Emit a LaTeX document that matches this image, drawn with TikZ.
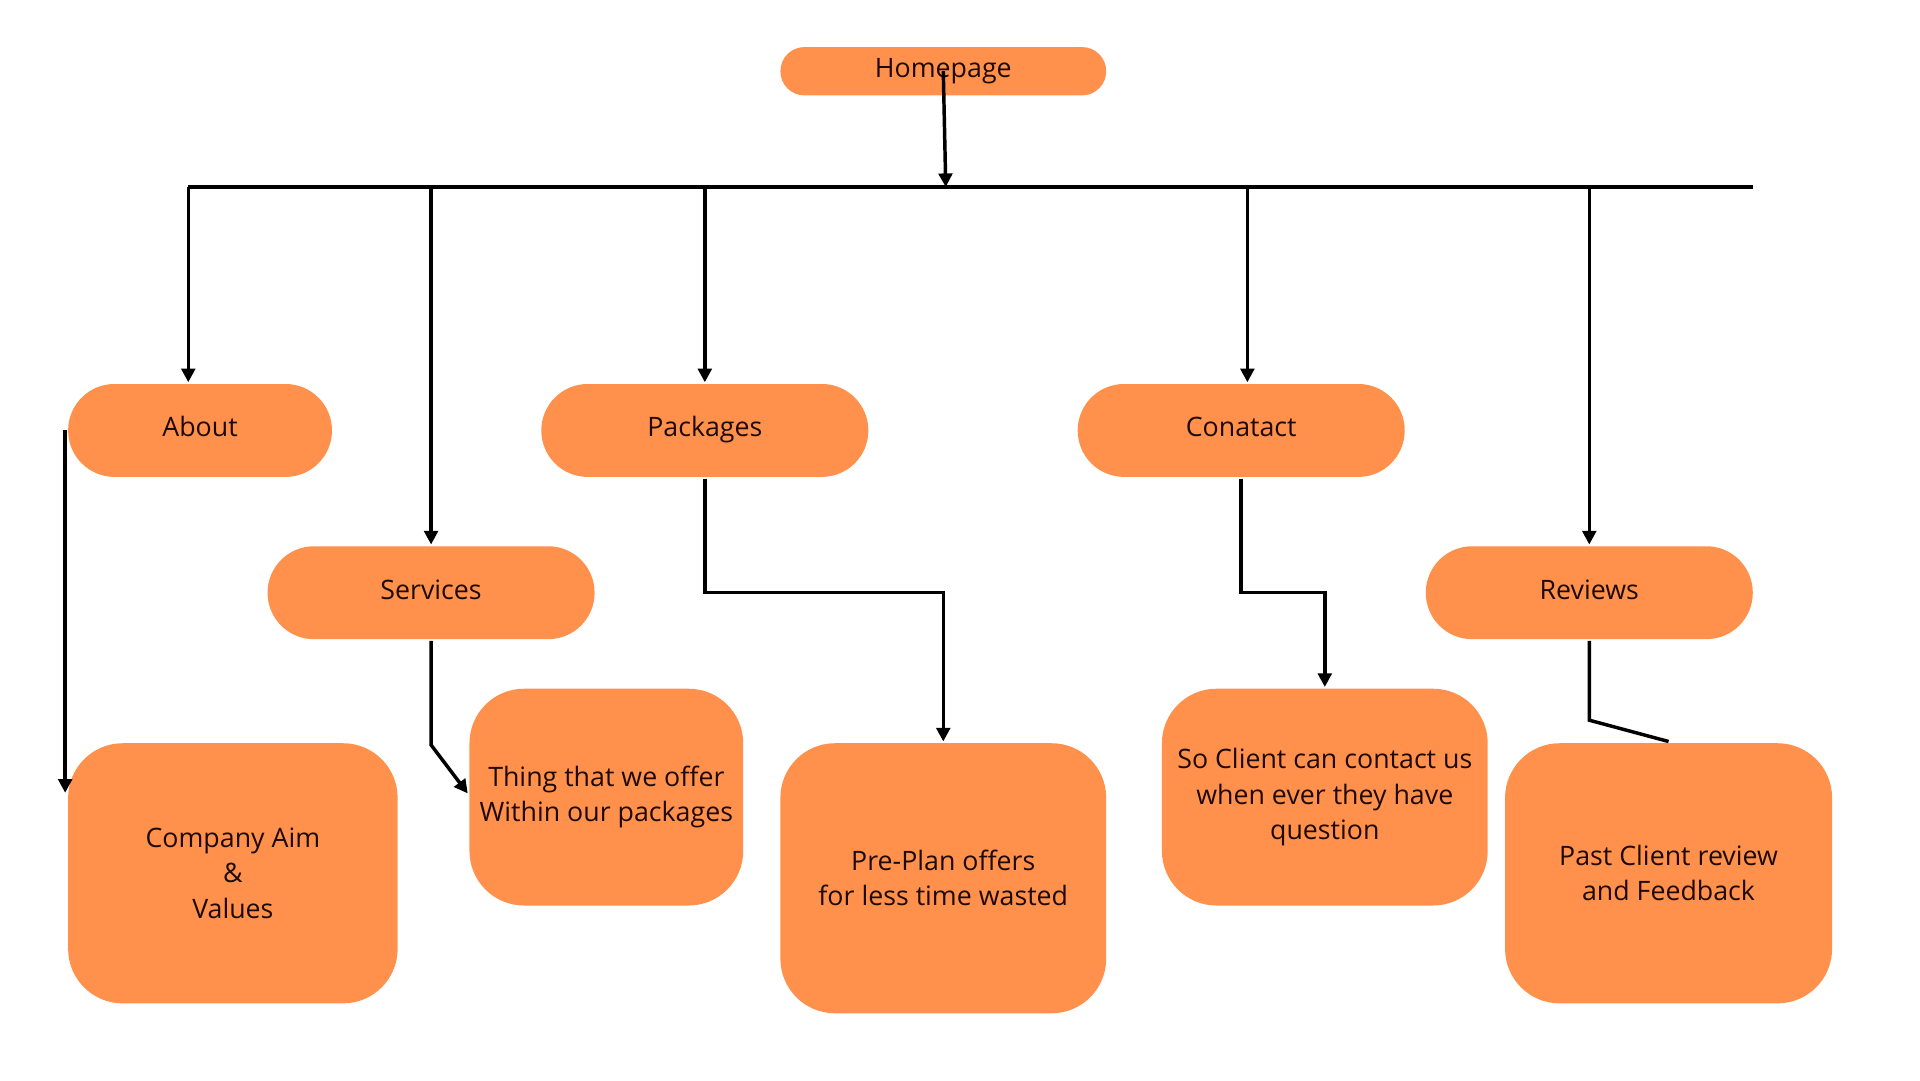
\documentclass[tikz,border=0pt]{standalone}
\usepackage{fontspec}
\setmainfont{Open Sans}
\usetikzlibrary{positioning,arrows.meta}
\definecolor{boxorange}{HTML}{FF914D}
\definecolor{inktext}{HTML}{1E0A04}

\begin{document}
\begin{tikzpicture}[line width=1.4pt, on grid,
  >={Triangle[length=5.5pt,width=5.5pt]},
  every node/.style={font=\fontsize{10.8}{14.2}\selectfont, text=inktext, align=center, inner sep=0pt},
  pill/.style={fill=boxorange, rounded corners=18.7pt, minimum width=132pt, minimum height=37.5pt,
    text height=0.72em, text depth=0.2em},
  card/.style={fill=boxorange, rounded corners=22pt, minimum width=132pt}]
 \useasboundingbox (0,0) rectangle (775pt,-436pt);
 \node [pill, rounded corners=9.7pt, minimum height=19.5pt, minimum width=131.5pt] (home) at (380.75pt,-28.75pt) {Homepage};
 \node [pill, minimum width=106.5pt, below left=145pt and 300pt of home] (about) {About};
 \node [pill, below left=145pt and 96.25pt of home] (packages) {Packages};
 \node [pill, below right=145pt and 120.25pt of home] (contact) {Conatact};
 \node [pill, below right=65.5pt and 93.25pt of about] (services) {Services};
 \node [pill, below right=65.5pt and 140.5pt of contact] (reviews) {Reviews};
 \node [card, minimum width=133pt, minimum height=105pt, below right=178.75pt and 13.25pt of about] (aim) {Company Aim\\ \&\\ Values};
 \node [card, minimum width=110.5pt, minimum height=87.5pt, below right=82.5pt and 70.75pt of services] (offer) {Thing that we offer\\ Within our packages};
 \node [card, minimum width=131.5pt, minimum height=109pt, below=325.75pt of home] (preplan) {Pre-Plan offers\\ for less time wasted};
 \node [card, minimum width=131.5pt, minimum height=87.5pt, below right=148pt and 33.75pt of contact] (reach) {So Client can contact us\\ when ever they have\\ question};
 \node [card, minimum height=105pt, below right=113.25pt and 32pt of reviews] (feedback) {Past Client review\\ and Feedback};
 % bus line under the homepage
 \coordinate (busL) at (76pt,-75.5pt);
 \coordinate (busR) at (707.5pt,-75.5pt);
 \draw (busL) -- (busR);
 \draw [->] (home.center) -- ([xshift=1pt]home.center |- busL);
 \draw [->] ([xshift=-4.75pt]about.north |- busL) -- ([xshift=-4.75pt]about.north);
 \draw [->] (services.north |- busL) -- (services.north);
 \draw [->] (packages.north |- busL) -- (packages.north);
 \draw [->] ([xshift=2.5pt]contact.north |- busL) -- ([xshift=2.5pt]contact.north);
 \draw [->] (reviews.north |- busL) -- (reviews.north);
 % second level
 \coordinate (aimin) at ([yshift=32.5pt]aim.west);
 \draw [->] ([xshift=-0.5pt]about.west) -- ([xshift=-0.5pt]aimin);
 \draw [->] (services.south) -- ++(0,-42pt) -- ([yshift=1.5pt]offer.west);
 \draw [->] (packages.south) -- (packages.south |- services.center) -- (preplan.north |- services.center) -- (preplan.north);
 \draw [->] (contact.south) -- (contact.south |- reviews.center) -- (reach.north |- reviews.center) -- (reach.north);
 \draw (reviews.south) -- ++(0,-32pt) -- (feedback.north);
\end{tikzpicture}
\end{document}
